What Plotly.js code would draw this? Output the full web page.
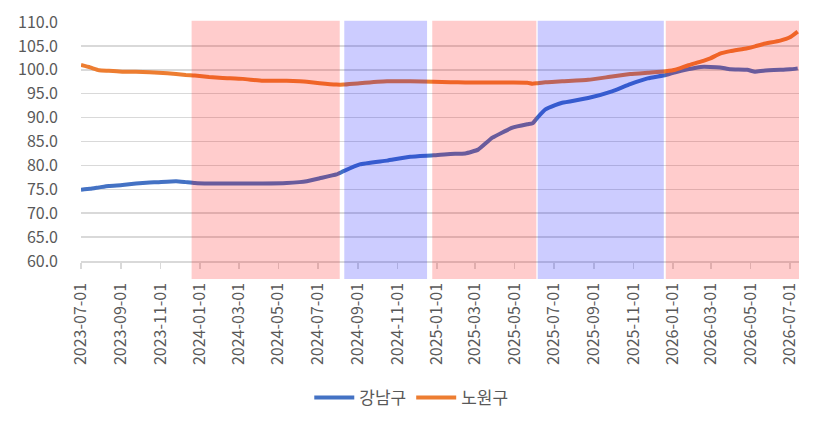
<!DOCTYPE html>
<html>
<head>
<meta charset="utf-8">
<script src="https://cdn.plot.ly/plotly-3.0.1.min.js"></script>
<style>
html,body{margin:0;padding:0;background:#fff;}
#chart{width:821px;height:428px;}
</style>
</head>
<body>
<div id="chart"></div>
<script>
// ---- data ----
const dates = [
  '2023-07-01','2023-07-15','2023-07-29','2023-08-13','2023-09-03','2023-09-24',
  '2023-10-15','2023-10-29','2023-11-25','2023-12-10','2023-12-24','2024-01-15',
  '2024-02-05','2024-03-07','2024-04-07','2024-05-14','2024-06-03','2024-06-14',
  '2024-07-04','2024-07-30','2024-08-10','2024-09-04','2024-10-16','2024-11-21',
  '2024-12-27','2025-01-22','2025-02-14','2025-03-06','2025-03-28','2025-04-28',
  '2025-05-21','2025-05-29','2025-06-05','2025-06-18','2025-07-03','2025-07-14',
  '2025-08-23','2025-09-29','2025-10-27','2025-11-23','2025-12-21','2026-01-05',
  '2026-01-24','2026-02-13','2026-02-28','2026-03-15','2026-03-31','2026-04-26',
  '2026-05-08','2026-05-21','2026-06-16','2026-07-01','2026-07-13'
];
const gangnam = [
  74.9,75.1,75.4,75.7,75.9,76.2,
  76.4,76.5,76.7,76.5,76.3,76.2,
  76.2,76.2,76.2,76.3,76.5,76.7,
  77.3,78.1,78.8,80.2,81.0,81.8,
  82.1,82.4,82.5,83.3,85.8,87.9,
  88.6,88.8,89.9,91.7,92.6,93.1,
  94.1,95.5,97.0,98.2,98.9,99.5,
  100.1,100.6,100.6,100.5,100.1,100.0,
  99.6,99.8,100.0,100.1,100.3
];
const nowon = [
  101.0,100.5,99.9,99.8,99.6,99.6,
  99.5,99.4,99.1,98.9,98.8,98.5,
  98.3,98.1,97.7,97.7,97.6,97.5,
  97.2,96.9,96.9,97.2,97.6,97.6,
  97.5,97.4,97.35,97.35,97.35,97.35,
  97.3,97.1,97.2,97.4,97.5,97.6,
  97.9,98.6,99.1,99.4,99.7,100.0,
  100.9,101.7,102.4,103.4,103.9,104.5,
  104.9,105.4,106.1,106.8,108.0
];
const seriesNames = ['강남구','노원구'];
const yTickVals = [60,65,70,75,80,85,90,95,100,105,110];
const periodStarts = ['2023-12-19','2024-08-11','2024-12-25','2025-06-06','2025-12-21'];
const periodEnds   = ['2024-08-04','2024-12-17','2025-06-04','2025-12-18','2026-07-19'];
const periodKinds  = ['red','blue','red','blue','red'];

// ---- styles ----
const kindFill = {red:'rgba(255,0,0,0.2)', blue:'rgba(0,0,255,0.2)'};
const lineColors = ['#4472C4','#ED7D31'];
const FONT = '"Noto Sans CJK KR", "Noto Sans", sans-serif';

const traces = [gangnam, nowon].map((vals, i) => ({
  type:'scatter', mode:'lines', x:dates, y:vals, name:seriesNames[i],
  line:{color:lineColors[i], width:4, shape:'spline', smoothing:0.4}
}));

const shapes = periodStarts.map((s, i) => ({
  type:'rect', xref:'x', yref:'paper', x0:s, x1:periodEnds[i], y0:-0.075, y1:1.005,
  fillcolor:kindFill[periodKinds[i]], line:{width:0}, layer:'above'
}));

const layout = {
  width:821, height:428,
  margin:{l:81, r:22, t:22, b:167},
  paper_bgcolor:'#fff', plot_bgcolor:'#fff',
  font:{family:FONT, color:'#595959', size:16},
  showlegend:true,
  legend:{orientation:'h', x:0.46, xanchor:'center', y:-0.573, yanchor:'middle',
          font:{size:17, color:'#595959'}, itemwidth:40, traceorder:'normal'},
  xaxis:{
    type:'date', range:['2023-07-01','2026-07-15'],
    tick0:'2023-07-01', dtick:'M2', tickformat:'%Y-%m-%d', tickangle:-90,
    ticks:'outside', ticklen:6, tickcolor:'#d9d9d9', tickwidth:1.5,
    showline:true, linecolor:'#d9d9d9', linewidth:1.5,
    showgrid:false, zeroline:false, ticklabelstandoff:8,
    tickfont:{size:16, color:'#595959'}
  },
  yaxis:{
    range:[60,110], tickvals:yTickVals, tickformat:'.1f',
    showgrid:true, gridcolor:'#d9d9d9', gridwidth:1.5,
    showline:false, zeroline:false, ticks:'', ticklabelstandoff:22,
    tickfont:{size:16, color:'#595959'}
  },
  shapes:shapes
};

Plotly.newPlot('chart', traces, layout, {displayModeBar:false, staticPlot:true});
</script>
</body>
</html>
